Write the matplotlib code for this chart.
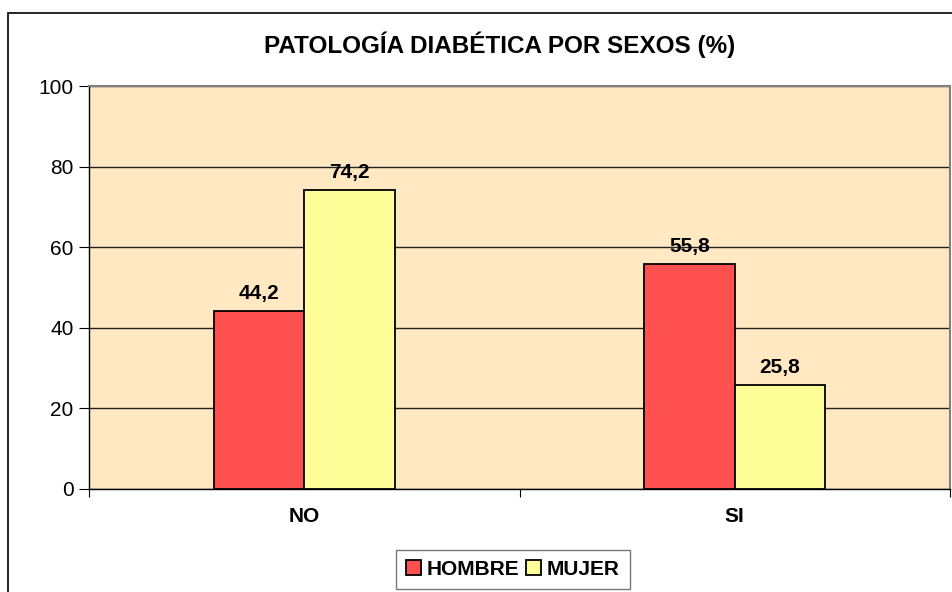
import matplotlib
matplotlib.use("Agg")
import matplotlib.pyplot as plt
from matplotlib.patches import Rectangle
import numpy as np

categories = ["NO", "SI"]
series_names = ["HOMBRE", "MUJER"]
hombre = [44.2, 55.8]
mujer = [74.2, 25.8]
y_ticks = [0, 20, 40, 60, 80, 100]
title = "PATOLOGÍA DIABÉTICA POR SEXOS (%)"

plt.rcParams['font.family'] = ['Liberation Sans', 'DejaVu Sans']

W, H = 952, 592
fig = plt.figure(figsize=(W/100, H/100), dpi=100)
fig.patch.set_facecolor('white')

# outer frame
fig.patches.append(Rectangle((8/W, -0.05), 1.0, (H-13)/H + 0.05, transform=fig.transFigure,
                             fill=False, edgecolor='black', linewidth=1.2))

left, right, top, bottom = 89, 950, 86, 489
ax = fig.add_axes([left/W, 1-bottom/H, (right-left)/W, (bottom-top)/H])
ax.set_facecolor('#FFE8C2')

x = np.arange(len(categories))
bw = 0.21
b1 = ax.bar(x - bw/2, hombre, bw, color='#FF5050', edgecolor='black', linewidth=1.3, label=series_names[0], zorder=3)
b2 = ax.bar(x + bw/2, mujer, bw, color='#FFFF99', edgecolor='black', linewidth=1.3, label=series_names[1], zorder=3)

for bars, vals in ((b1, hombre), (b2, mujer)):
    for r, v in zip(bars, vals):
        ax.text(r.get_x() + r.get_width()/2, v + 2.0, f"{v:.1f}".replace('.', ','),
                ha='center', va='bottom', fontsize=15, fontweight='bold', zorder=4)

ax.set_xlim(-0.5, len(categories) - 0.5)
ax.set_ylim(0, 100)
ax.set_yticks(y_ticks)
ax.set_yticklabels([str(t) for t in y_ticks], fontsize=15)
ax.yaxis.grid(True, color='#222222', linewidth=1.0, zorder=1)
ax.set_axisbelow(True)

ax.set_xticks(np.arange(-0.5, len(categories)), minor=False)
ax.set_xticklabels([])
ax.set_xticks(x, minor=True)
ax.set_xticklabels(categories, minor=True, fontsize=15, fontweight='bold')
ax.tick_params(axis='x', which='major', length=6, direction='out', color='black')
ax.tick_params(axis='x', which='minor', length=0, pad=13)
ax.tick_params(axis='y', length=7, direction='out', pad=4)

for s in ('left', 'bottom'):
    ax.spines[s].set_color('black')
    ax.spines[s].set_linewidth(1.0)
for s in ('top', 'right'):
    ax.spines[s].set_color('#808080')
    ax.spines[s].set_linewidth(1.5)

fig.text(500/W, 1 - 45/H, title, ha='center', va='center',
         fontsize=17.5, fontweight='bold')

leg = fig.legend(handles=[b1, b2], labels=series_names, loc='center',
                 bbox_to_anchor=(513/W, 1 - 569.5/H), ncol=2, frameon=True, fancybox=False,
                 edgecolor='#555555', prop={'weight': 'bold', 'size': 15},
                 handlelength=0.7, handleheight=0.7, handletextpad=0.3, columnspacing=0.3,
                 borderpad=0.5, borderaxespad=0)
leg.get_frame().set_linewidth(1.0)

fig.savefig("out.png", dpi=100)
